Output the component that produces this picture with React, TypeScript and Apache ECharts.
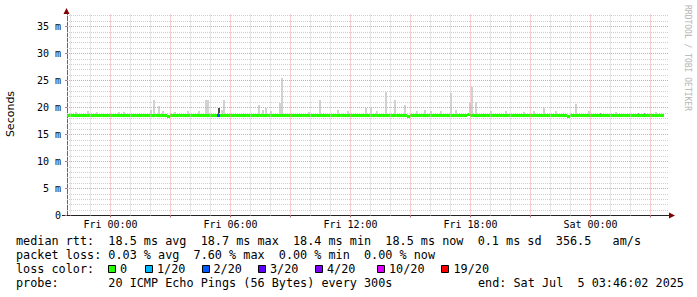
import React, { useEffect, useRef } from "react";
import * as echarts from "echarts";

// ---------------- data (hours relative to Fri 00:00, values in ms) ----------------
const timeTickHours = [0, 6, 12, 18, 24];
const timeTickLabels = ["Fri 00:00", "Fri 06:00", "Fri 12:00", "Fri 18:00", "Sat 00:00"];
const yTickMs = [0, 5, 10, 15, 20, 25, 30, 35];

// median RTT, one value per 10 minutes from the start of the graph
const medianMs = [
  18.6, 18.6, 18.5, 18.5, 18.5, 18.5, 18.6, 18.6, 18.5, 18.5, 18.5, 18.5, 18.5, 18.6, 18.6, 18.5, 18.5, 18.5,
  18.5, 18.5, 18.5, 18.6, 18.5, 18.5, 18.6, 18.5, 18.5, 18.5, 18.5, 18.5, 18.4, 18.5, 18.5, 18.5, 18.5, 18.5,
  18.5, 18.5, 18.6, 18.5, 18.5, 18.6, 18.5, 18.5, 18.5, 18.5, 18.5, 18.5, 18.6, 18.6, 18.5, 18.5, 18.5, 18.5,
  18.5, 18.5, 18.6, 18.5, 18.5, 18.6, 18.5, 18.5, 18.5, 18.5, 18.6, 18.5, 18.5, 18.5, 18.5, 18.5, 18.5, 18.6,
  18.5, 18.5, 18.6, 18.6, 18.5, 18.6, 18.6, 18.5, 18.6, 18.6, 18.5, 18.5, 18.6, 18.6, 18.5, 18.5, 18.6, 18.5,
  18.5, 18.6, 18.5, 18.6, 18.5, 18.5, 18.5, 18.6, 18.5, 18.5, 18.6, 18.5, 18.4, 18.5, 18.6, 18.5, 18.5, 18.5,
  18.5, 18.5, 18.6, 18.5, 18.6, 18.5, 18.5, 18.6, 18.5, 18.5, 18.6, 18.5, 18.7, 18.6, 18.5, 18.5, 18.6, 18.5,
  18.5, 18.6, 18.6, 18.5, 18.5, 18.6, 18.5, 18.5, 18.6, 18.6, 18.5, 18.5, 18.6, 18.5, 18.5, 18.6, 18.5, 18.5,
  18.5, 18.6, 18.5, 18.6, 18.6, 18.5, 18.4, 18.5, 18.6, 18.5, 18.5, 18.6, 18.6, 18.5, 18.5, 18.6, 18.5, 18.5,
  18.5, 18.6, 18.5, 18.5, 18.6, 18.5, 18.5, 18.5, 18.6, 18.5, 18.5, 18.5, 18.6, 18.5, 18.5, 18.5, 18.5,
];
// [median index, lost pings out of 20]
const lossEvents: [number, number][] = [[45, 2]];

// smoke: [hour, low ms, high ms, shade 0 light / 1 mid / 2 dark]
const smokeSpikes: [number, number, number, number][] = [
  [-1.75, 18.5, 19.2, 0], [-1.15, 18.5, 19.3, 0], [-0.7, 18.5, 19.2, 0], [0.4, 18.5, 19.1, 0],
  [0.65, 18.5, 19.2, 0], [2.0, 18.5, 19.6, 0], [2.175, 18.5, 21.3, 0], [2.425, 18.5, 20.2, 0],
  [2.6, 18.5, 19.3, 0], [3.2, 18.5, 19.2, 0], [3.85, 18.5, 19.3, 0], [4.4, 18.5, 19.3, 0],
  [4.75, 18.5, 21.3, 0], [4.85, 18.5, 21.3, 0], [5.425, 18.3, 19.9, 2], [5.55, 18.5, 19.6, 0],
  [5.65, 18.5, 21.3, 0], [7.4, 18.5, 20.4, 0], [7.6, 18.5, 19.5, 0], [7.75, 18.5, 20.0, 0],
  [8.0, 18.5, 19.3, 0], [8.45, 18.5, 20.9, 0], [8.575, 18.5, 25.5, 0], [9.9, 18.5, 19.2, 0],
  [10.45, 18.5, 21.3, 0], [11.35, 18.5, 19.6, 0], [11.85, 18.5, 19.3, 0], [12.75, 18.5, 20.0, 0],
  [13.0, 18.5, 20.0, 0], [13.3, 18.5, 19.3, 0], [13.75, 18.5, 22.9, 0], [14.2, 18.5, 21.3, 0],
  [14.7, 18.5, 20.4, 0], [15.3, 18.5, 19.4, 0], [15.7, 18.5, 19.6, 0], [16.0, 18.5, 19.4, 0],
  [16.5, 18.5, 19.3, 0], [17.0, 18.5, 22.6, 0], [17.25, 18.5, 19.5, 0], [17.95, 18.5, 20.8, 0],
  [18.075, 18.5, 23.8, 0], [18.25, 18.5, 21.0, 0], [19.0, 18.5, 19.3, 0], [19.75, 18.5, 19.3, 0],
  [20.65, 18.5, 19.2, 0], [21.15, 18.5, 19.4, 0], [21.65, 18.5, 20.0, 0], [22.25, 18.5, 19.3, 0],
  [23.25, 18.5, 20.6, 0], [23.9, 18.5, 19.4, 0], [24.5, 18.5, 18.9, 1], [25.25, 18.5, 19.2, 0],
  [26.35, 18.5, 18.9, 1], [26.65, 18.5, 18.9, 1], [27.25, 18.5, 19.2, 0],
];

const lossLevels = [0, 1, 2, 3, 4, 10, 19];
const lossLabels = ["0", "1/20", "2/20", "3/20", "4/20", "10/20", "19/20"];
const lossColors = ["#26ff00", "#00b8ff", "#0059ff", "#5e00ff", "#7e00ff", "#dd00ff", "#ff0000"];

const legendRtt = "median rtt:  18.5 ms avg  18.7 ms max  18.4 ms min  18.5 ms now  0.1 ms sd  356.5   am/s";
const legendLoss = "packet loss: 0.03 % avg  7.60 % max  0.00 % min  0.00 % now";
const legendLossTitle = "loss color:";
const legendProbe = "probe:       20 ICMP Echo Pings (56 Bytes) every 300s";
const legendEnd = "end: Sat Jul  5 03:46:02 2025";
const yAxisTitle = "Seconds";
const watermark = "RRDTOOL / TOBI OETIKER";

// ---------------- layout ----------------
const X_MIN = -2.175;
const X_MAX = 27.9;
const Y_MAX = 37.3;
const MEDIAN_STEP_H = 1 / 6;
const SMOKE_W_H = 0.12;
const GRID_LEFT = 67;
const GRID_WIDTH = 601.5;
const GRID_BOTTOM_Y = 215.5;
const GRID_HEIGHT = Y_MAX * 5.4;
const MONO = "'DejaVu Sans Mono', monospace";

const smokeShades = ["#d2d2d2", "#9a9a9a", "#4a4a4a"];
const nb = (s: string) => s.replace(/ /g, "\u00a0");
const lossColorFor = (loss: number) => {
  let c = lossColors[0];
  lossLevels.forEach((lv, i) => { if (loss >= lv) c = lossColors[i]; });
  return c;
};

export default function App() {
  const ref = useRef<HTMLDivElement>(null);
  useEffect(() => {
    if (!ref.current) return;
    const chart = echarts.init(ref.current, undefined, { renderer: "svg" });

    const lossByIndex: Record<number, number> = {};
    lossEvents.forEach(([i, l]) => { lossByIndex[i] = l; });
    const medianData = medianMs.map((v, i) => [X_MIN + i * MEDIAN_STEP_H, v, lossByIndex[i] || 0]);

    const vLines: any[] = [];
    for (let h = Math.ceil(X_MIN); h <= Math.floor(X_MAX); h++) {
      const major = h % 3 === 0;
      vLines.push({ xAxis: h, lineStyle: { color: major ? "#e8a0a0" : "#cfcfcf", width: 1, type: [1, 1] } });
    }
    const hLines: any[] = [];
    for (let v = 1; v <= Math.floor(Y_MAX); v++) {
      const major = v % 5 === 0;
      hLines.push({ yAxis: v, lineStyle: { color: major ? "#e8a0a0" : "#cfcfcf", width: 1, type: [1, 1] } });
    }
    const majorHours: number[] = [];
    for (let h = Math.ceil(X_MIN / 3) * 3; h <= X_MAX; h += 3) majorHours.push(h);

    const labelFor = (v: number) => {
      const i = timeTickHours.findIndex((h) => Math.abs(h - v) < 1e-6);
      return i >= 0 ? timeTickLabels[i] : "";
    };

    const legendY = [241, 255, 269, 283];
    const boxX = [108.5, 145.5, 202.5, 258.5, 315.5, 377.5, 441.5];
    const boxLabelX = [120, 157, 213.5, 270, 327, 389, 453.5];
    const textStyle = (text: string, fs = 11.8) => ({
      text: nb(text), fill: "#000", fontFamily: MONO, fontSize: fs,
      textAlign: "left", align: "left", textVerticalAlign: "middle", verticalAlign: "middle",
    });

    const graphic: any[] = [
      { type: "text", x: 10, y: 114, rotation: Math.PI / 2,
        style: { text: yAxisTitle, fill: "#000", fontFamily: "'DejaVu Sans', sans-serif", fontSize: 11,
          textAlign: "center", align: "center", textVerticalAlign: "middle", verticalAlign: "middle" } },
      { type: "text", x: 687.5, y: 5, rotation: -Math.PI / 2,
        style: { text: nb(watermark), fill: "#b4b4b4", fontFamily: MONO, fontSize: 8,
          textAlign: "left", align: "left", textVerticalAlign: "middle", verticalAlign: "middle" } },
      { type: "line", shape: { x1: GRID_LEFT - 0.5, y1: GRID_BOTTOM_Y - GRID_HEIGHT, x2: GRID_LEFT - 0.5, y2: 10 },
        style: { stroke: "#666", lineWidth: 1 } },
      { type: "polygon", shape: { points: [[GRID_LEFT - 0.5, 8], [GRID_LEFT - 3.5, 14], [GRID_LEFT + 2.5, 14]] },
        style: { fill: "#800000" } },
      { type: "line", shape: { x1: 62, y1: GRID_BOTTOM_Y, x2: GRID_LEFT, y2: GRID_BOTTOM_Y },
        style: { stroke: "#222", lineWidth: 1 } },
      { type: "line", shape: { x1: GRID_LEFT + GRID_WIDTH, y1: GRID_BOTTOM_Y, x2: 670, y2: GRID_BOTTOM_Y },
        style: { stroke: "#222", lineWidth: 1 } },
      { type: "polygon", shape: { points: [[675, GRID_BOTTOM_Y], [669, GRID_BOTTOM_Y - 3], [669, GRID_BOTTOM_Y + 3]] },
        style: { fill: "#800000" } },
      { type: "text", x: 16, y: legendY[0], style: textStyle(legendRtt) },
      { type: "text", x: 16, y: legendY[1], style: textStyle(legendLoss) },
      { type: "text", x: 16, y: legendY[2], style: textStyle(legendLossTitle) },
      { type: "text", x: 16, y: legendY[3], style: textStyle(legendProbe) },
      { type: "text", x: 478, y: legendY[3], style: textStyle(legendEnd) },
    ];
    lossLabels.forEach((lab, i) => {
      graphic.push({ type: "rect", shape: { x: boxX[i], y: 265.5, width: 7, height: 7 },
        style: { fill: lossColors[i], stroke: "#000", lineWidth: 1 } });
      graphic.push({ type: "text", x: boxLabelX[i], y: legendY[2], style: textStyle(lab) });
    });

    chart.setOption({
      animation: false,
      backgroundColor: "#ffffff",
      grid: { left: GRID_LEFT, top: GRID_BOTTOM_Y - GRID_HEIGHT, width: GRID_WIDTH, height: GRID_HEIGHT, containLabel: false },
      xAxis: {
        type: "value", min: X_MIN, max: X_MAX,
        splitLine: { show: false },
        axisLine: { show: true, onZero: false, lineStyle: { color: "#222", width: 1 } },
        axisTick: { show: true, customValues: majorHours, length: 2, lineStyle: { color: "#c07070" } },
        axisLabel: { customValues: timeTickHours, formatter: (v: number) => labelFor(v),
          fontFamily: MONO, fontSize: 10, color: "#000", margin: 4 },
      },
      yAxis: {
        type: "value", min: 0, max: Y_MAX,
        splitLine: { show: false },
        axisLine: { show: true, onZero: false, lineStyle: { color: "#666", width: 1 } },
        axisTick: { show: true, customValues: yTickMs, length: 2, lineStyle: { color: "#c07070" } },
        axisLabel: { customValues: yTickMs, formatter: (v: number) => (v === 0 ? "0" : `${v} m`),
          fontFamily: MONO, fontSize: 10, color: "#000", margin: 6 },
      },
      graphic,
      series: [
        {
          type: "line", data: [], z: 1, silent: true,
          markLine: { silent: true, symbol: ["none", "none"], label: { show: false }, animation: false,
            data: [...vLines, ...hLines] },
        },
        {
          type: "custom", z: 2, silent: true, data: smokeSpikes,
          renderItem: (params: any, api: any) => {
            const t = api.value(0), lo = api.value(1), hi = api.value(2), shade = api.value(3);
            const top = api.coord([t, hi]);
            const bot = api.coord([t, lo]);
            const w = Math.max(2, Math.round(api.size([SMOKE_W_H, 0])[0]));
            const x = Math.round(top[0] - w / 2);
            const y = Math.round(top[1]);
            return { type: "rect", shape: { x, y, width: w, height: Math.round(bot[1]) - y },
              style: { fill: smokeShades[shade] } };
          },
        },
        {
          type: "custom", z: 3, silent: true, data: medianData,
          renderItem: (params: any, api: any) => {
            const t = api.value(0), v = api.value(1), loss = api.value(2);
            const a = api.coord([t, v]);
            const b = api.coord([t + MEDIAN_STEP_H, v]);
            const x0 = Math.round(a[0]), x1 = Math.round(b[0]);
            return { type: "rect", shape: { x: x0, y: Math.round(a[1] - 1.5), width: x1 - x0, height: 3 },
              style: { fill: lossColorFor(loss) } };
          },
        },
      ],
    });
    return () => chart.dispose();
  }, []);
  return (
    <div ref={ref} style={{ position: "absolute", left: 0, top: 0, width: 697, height: 297, background: "#fff" }} />
  );
}
